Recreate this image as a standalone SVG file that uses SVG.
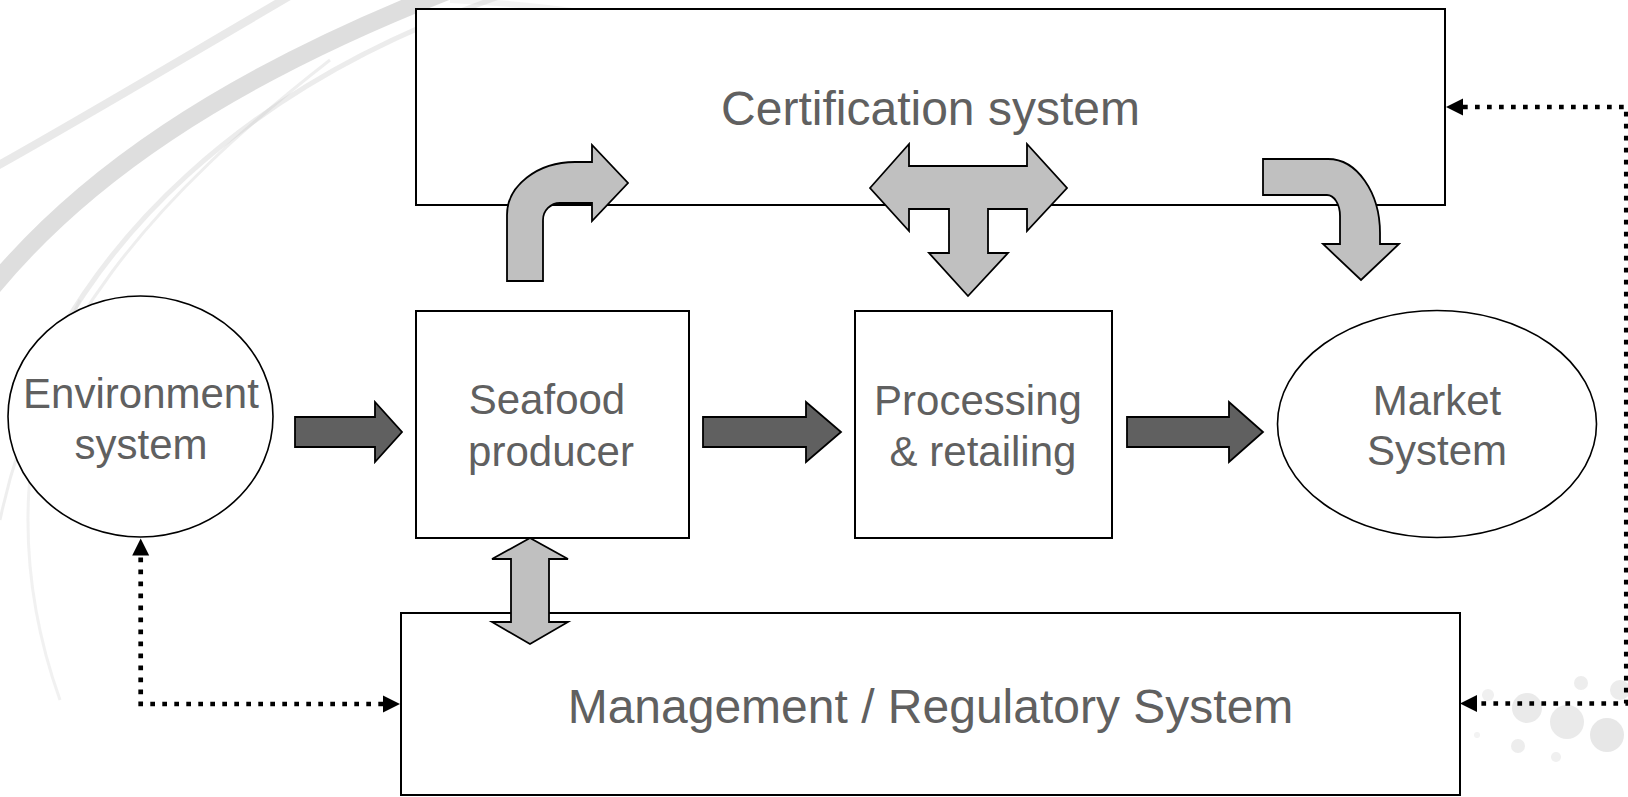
<svg xmlns="http://www.w3.org/2000/svg" width="1628" height="797" viewBox="0 0 1628 797">
  <style>
    .box { fill: #ffffff; stroke: #000000; stroke-width: 2; }
    .ell { fill: #ffffff; stroke: #000000; stroke-width: 1.6; }
    .lbl { font-family: "Liberation Sans", Arial, sans-serif; fill: #606060; text-anchor: middle; }
    .big { font-size: 48px; }
    .med { font-size: 42px; }
    .dark { fill: #606060; stroke: #000000; stroke-width: 1.8; stroke-linejoin: miter; }
    .light { fill: #c0c0c0; stroke: #000000; stroke-width: 1.8; stroke-linejoin: miter; }
    .dot { fill: none; stroke: #000000; stroke-width: 4.7; stroke-dasharray: 4.7 7.3; }
    .deco { fill: none; stroke: #c8c8c8; }
  </style>
  <defs>
    <marker id="head" markerUnits="userSpaceOnUse" markerWidth="18" markerHeight="18" refX="0" refY="8.5" orient="auto-start-reverse" viewBox="0 0 18 17">
      <path d="M0,0 L17,8.5 L0,17 z" fill="#000000"/>
    </marker>
  </defs>
  <rect width="1628" height="797" fill="#ffffff"/>
  <g id="background">
    <path class="deco" stroke-width="18" opacity="0.6" d="M -10 290 C 80 180 220 80 450 -10"/>
    <path class="deco" stroke-width="8" opacity="0.4" d="M -10 170 C 80 120 180 60 300 -10"/>
    <path class="deco" stroke-width="5" opacity="0.35" d="M 20 420 C 80 250 240 80 520 -10"/>
    <path class="deco" stroke-width="3" opacity="0.3" d="M 0 520 C 40 330 150 200 330 60"/>
    <path class="deco" stroke-width="3" opacity="0.25" d="M 60 700 C 10 560 20 420 80 300"/>
    <path class="deco" stroke-width="6" opacity="0.2" d="M 450 0 C 650 10 780 50 860 110"/>
    <g opacity="0.7">
      <circle cx="1527" cy="708" r="15" fill="#e2e2e2"/>
      <circle cx="1567" cy="722" r="17" fill="#e2e2e2"/>
      <circle cx="1607" cy="735" r="17" fill="#dedede"/>
      <circle cx="1581" cy="683" r="7" fill="#e6e6e6"/>
      <circle cx="1488" cy="695" r="6" fill="#eaeaea"/>
      <circle cx="1518" cy="746" r="7" fill="#e6e6e6"/>
      <circle cx="1556" cy="757" r="5" fill="#eaeaea"/>
      <circle cx="1477" cy="735" r="3" fill="#eeeeee"/>
      <circle cx="1620" cy="690" r="10" fill="#e4e4e4"/>
    </g>
  </g>

  <g id="certification">
    <rect class="box" x="416" y="9" width="1029" height="196"/>
    <text class="lbl big" x="930.5" y="125">Certification system</text>
  </g>
  <g id="management">
    <rect class="box" x="401" y="613" width="1059" height="182"/>
    <text class="lbl big" x="930.5" y="723">Management / Regulatory System</text>
  </g>
  <g id="environment">
    <ellipse class="ell" cx="140.5" cy="416.5" rx="132.5" ry="120.5"/>
    <text class="lbl med" x="141" y="408">Environment</text>
    <text class="lbl med" x="141" y="459">system</text>
  </g>
  <g id="seafood">
    <rect class="box" x="416" y="311" width="273" height="227"/>
    <text class="lbl med" x="547" y="414">Seafood</text>
    <text class="lbl med" x="551" y="466">producer</text>
  </g>
  <g id="processing">
    <rect class="box" x="855" y="311" width="257" height="227"/>
    <text class="lbl med" x="978" y="415">Processing</text>
    <text class="lbl med" x="983" y="466">&amp; retailing</text>
  </g>
  <g id="market">
    <ellipse class="ell" cx="1437" cy="424" rx="159.5" ry="113.5"/>
    <text class="lbl med" x="1437" y="415">Market</text>
    <text class="lbl med" x="1437" y="465">System</text>
  </g>

  <g id="connectors">
    <polygon class="dark" points="295,417 375,417 375,402 402,432 375,462 375,447 295,447"/>
    <polygon class="dark" points="703,417 806,417 806,402 841,432 806,462 806,447 703,447"/>
    <polygon class="dark" points="1127,417 1229,417 1229,402 1263,432 1229,462 1229,447 1127,447"/>
    <path class="light" d="M 507 281 L 507 215 A 68 53 0 0 1 575 162 L 592 162 L 592 145 L 628 183 L 592 221 L 592 203 L 560 203 A 17 17 0 0 0 543 220 L 543 281 Z"/>
    <polygon class="light" points="870,188 909,144 909,166 1027,166 1027,144 1067,188 1027,231 1027,209 988,209 988,253 1008,253 968,296 929,253 949,253 949,209 909,209 909,231"/>
    <path class="light" d="M 1263 159 L 1328 159 A 52 74 0 0 1 1380 233 L 1380 244 L 1399 244 L 1361 280 L 1323 244 L 1340 244 L 1340 216 A 13 21 0 0 0 1327 195 L 1263 195 Z"/>
    <polygon class="light" points="530,538 568,559 549,559 549,622 568,622 530,644 492,622 511,622 511,559 492,559"/>
    <path class="dot" marker-start="url(#head)" marker-end="url(#head)" d="M 383 704 L 140.7 704 L 140.7 555.5"/>
    <path class="dot" marker-start="url(#head)" marker-end="url(#head)" d="M 1463 107 L 1626.3 107 L 1626.3 703.5 L 1477 703.5"/>
  </g>
</svg>
